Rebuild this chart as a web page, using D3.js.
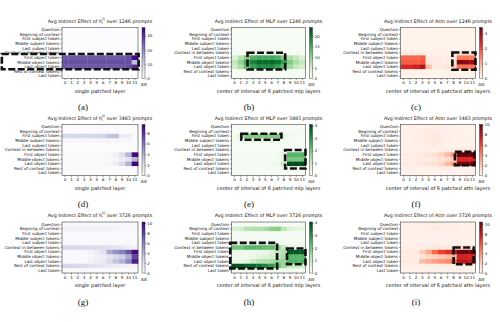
<!DOCTYPE html>
<html><head><meta charset="utf-8">
<script src="https://cdn.jsdelivr.net/npm/d3@7"></script>
<style>body{margin:0;background:#fff}</style>
</head><body><svg id="c" width="500" height="322"></svg>
<script>
const rowLabels = ["Question","Begining of context","First subject token","Middle subject tokens","Last subject token","Context in between tokens","First object token","Middle object tokens","Last object token","Rest of context tokens","Last token"];
const layerTicks = ["0","1","2","3","4","5","6","7","8","9","10","11"];
const promptCounts = ["1246","3483","3726"];
const components = ["h","MLP","Attn"];
const xAxisLabels = ["single patched layer","center of interval of 6 patched mlp layers","center of interval of 6 patched attn layers"];
const captions = ["(a)","(b)","(c)","(d)","(e)","(f)","(g)","(h)","(i)"];

// (a) hidden state, 1246 prompts
const hidden1246 = [
 [0.1,0.1,0.1,0.1,0.1,0.1,0.1,0.1,0.1,0.1,0.1,0.1],
 [0.1,0.1,0.1,0.1,0.1,0.1,0.1,0.1,0.1,0.1,0.1,0.1],
 [0.1,0.1,0.1,0.1,0.1,0.1,0.1,0.1,0.1,0.1,0.1,0.1],
 [0.1,0.1,0.1,0.1,0.1,0.1,0.1,0.1,0.1,0.1,0.1,0.1],
 [0.1,0.1,0.1,0.1,0.1,0.1,0.1,0.1,0.1,0.1,0.1,0.1],
 [0.2,0.2,0.2,0.2,0.2,0.2,0.2,0.2,0.2,0.2,0.2,0.2],
 [26,26,26,26,26,26,26,26,26,26,27,35],
 [27,27,27,27,27,27,27,27,27,27,27,13],
 [26,26,26,26,26,26,26,26,26,26,27,31],
 [0.1,0.1,0.1,0.1,0.1,0.1,0.1,0.1,0.1,0.1,0.1,0.1],
 [0.1,0.1,0.1,0.1,0.1,0.1,0.1,0.1,0.1,0.1,0.1,0.1]];
// (b) MLP, 1246 prompts
const mlp1246 = [
 [0.2,0.2,0.2,0.2,0.2,0.2,0.2,0.2,0.2,0.2,0.2,0.2],
 [0.2,0.2,0.2,0.2,0.2,0.2,0.2,0.2,0.2,0.2,0.2,0.2],
 [0.2,0.2,0.2,0.2,0.2,0.2,0.2,0.2,0.2,0.2,0.2,0.2],
 [0.2,0.2,0.2,0.2,0.2,0.2,0.2,0.2,0.2,0.2,0.2,0.2],
 [0.2,0.2,0.2,0.2,0.2,0.2,0.2,0.2,0.2,0.2,0.2,0.2],
 [0.3,0.3,0.3,0.3,0.3,0.3,0.3,0.3,0.3,0.3,0.3,0.3],
 [4,7,11,14,15,15,15,14,11,8,6,4],
 [6,10,15,19,21,21,21,20,16,11,8,6],
 [5,8,13,16,18,18,18,16,13,9,6,5],
 [0.3,0.3,0.3,0.3,0.3,0.3,0.3,0.3,0.3,0.3,0.3,0.3],
 [0.3,0.3,0.3,0.3,0.3,0.3,0.3,0.3,0.3,0.3,0.3,0.3]];
// (c) Attn, 1246 prompts
const attn1246 = [
 [0.05,0.05,0.05,0.05,0.05,0.05,0.05,0.05,0.05,0.05,0.05,0.05],
 [0.05,0.05,0.05,0.05,0.05,0.05,0.05,0.05,0.05,0.05,0.05,0.05],
 [0.05,0.05,0.05,0.05,0.05,0.05,0.05,0.05,0.05,0.05,0.05,0.05],
 [0.05,0.05,0.05,0.05,0.05,0.05,0.05,0.05,0.05,0.05,0.05,0.05],
 [0.05,0.05,0.05,0.05,0.05,0.05,0.05,0.05,0.05,0.05,0.05,0.05],
 [0.15,0.15,0.15,0.15,0.1,0.1,0.1,0.1,0.15,0.3,0.3,0.3],
 [1.7,1.7,1.7,1.8,0.2,0.15,0.15,0.15,0.3,1.5,1.5,1.5],
 [1.8,1.8,1.8,1.9,0.25,0.15,0.15,0.15,0.4,3.2,3.1,3.0],
 [2.4,2.4,2.5,2.8,0.8,0.2,0.2,0.3,0.6,1.6,1.6,1.6],
 [0.05,0.05,0.05,0.05,0.05,0.05,0.05,0.05,0.05,0.05,0.05,0.05],
 [0.05,0.05,0.05,0.05,0.05,0.05,0.05,0.05,0.05,0.05,0.05,0.05]];
// (d) hidden state, 3483 prompts
const hidden3483 = [
 [0.1,0.1,0.1,0.1,0.1,0.1,0.1,0.1,0.1,0.1,0.1,0.1],
 [0.1,0.1,0.1,0.1,0.1,0.1,0.1,0.1,0.1,0.1,0.1,0.1],
 [2.5,2.5,2.5,2.5,2.5,2.5,2.6,3.3,3.4,1.3,1.2,0.2],
 [0.4,0.4,0.4,0.4,0.4,0.4,0.4,0.5,0.5,0.3,0.3,0.1],
 [0.1,0.1,0.1,0.1,0.1,0.1,0.1,0.1,0.1,0.1,0.1,0.1],
 [0.1,0.1,0.1,0.1,0.1,0.1,0.1,0.1,0.1,0.1,0.1,0.1],
 [0.2,0.2,0.2,0.2,0.2,0.2,0.3,0.4,1.0,2.0,3.8,9.3],
 [0.2,0.2,0.2,0.2,0.2,0.2,0.2,0.3,0.6,1.2,2.0,3.8],
 [0.2,0.2,0.2,0.2,0.2,0.2,0.3,0.5,1.2,2.2,4.0,9.5],
 [0.1,0.1,0.1,0.1,0.1,0.1,0.1,0.1,0.1,0.1,0.1,0.1],
 [0.1,0.1,0.1,0.1,0.1,0.1,0.1,0.1,0.1,0.1,0.1,0.1]];
// (e) MLP, 3483 prompts
const mlp3483 = [
 [0.03,0.03,0.03,0.03,0.03,0.03,0.03,0.03,0.03,0.03,0.03,0.03],
 [0.03,0.03,0.03,0.03,0.03,0.03,0.03,0.03,0.03,0.03,0.03,0.03],
 [0.1,0.6,1.9,1.9,1.9,1.9,1.9,1.9,0.4,0.15,0.05,0.05],
 [0.05,0.2,0.3,0.3,0.3,0.3,0.3,0.3,0.1,0.05,0.05,0.05],
 [0.03,0.03,0.03,0.03,0.03,0.03,0.03,0.03,0.03,0.03,0.03,0.03],
 [0.03,0.03,0.03,0.03,0.03,0.03,0.03,0.03,0.05,0.1,0.1,0.1],
 [0.05,0.05,0.05,0.05,0.05,0.05,0.05,0.1,0.5,2.4,2.4,2.4],
 [0.05,0.05,0.05,0.05,0.05,0.05,0.05,0.1,0.4,2.0,2.0,2.0],
 [0.05,0.05,0.05,0.05,0.05,0.05,0.2,0.3,1.0,4.0,4.0,4.0],
 [0.03,0.03,0.03,0.03,0.03,0.03,0.03,0.03,0.03,0.03,0.03,0.03],
 [0.03,0.03,0.03,0.03,0.03,0.03,0.03,0.03,0.03,0.03,0.03,0.03]];
// (f) Attn, 3483 prompts
const attn3483 = [
 [0.3,0.3,0.3,0.3,0.4,0.4,0.4,0.3,0.3,0.2,0.2,0.2],
 [0.3,0.3,0.3,0.4,0.5,0.5,0.4,0.3,0.3,0.2,0.2,0.2],
 [0.3,0.3,0.4,0.5,0.6,0.7,0.6,0.4,0.3,0.3,0.2,0.2],
 [0.3,0.3,0.4,0.5,0.7,0.8,0.6,0.4,0.3,0.3,0.2,0.2],
 [0.3,0.3,0.3,0.4,0.5,0.5,0.4,0.3,0.3,0.2,0.2,0.2],
 [0.3,0.3,0.3,0.3,0.3,0.3,0.4,0.4,0.5,0.8,0.8,0.8],
 [0.5,0.5,0.6,0.7,0.9,1.1,1.6,2.5,3.5,10,10,10],
 [0.4,0.4,0.4,0.5,0.6,0.7,1.0,1.4,1.8,7.0,7.0,7.0],
 [0.5,0.5,0.6,0.7,0.9,1.1,1.6,2.4,3.4,9.6,9.6,9.6],
 [0.3,0.3,0.3,0.3,0.3,0.3,0.3,0.3,0.3,0.3,0.3,0.3],
 [0.2,0.2,0.2,0.2,0.2,0.2,0.2,0.2,0.2,0.2,0.2,0.2]];
// (g) hidden state, 3726 prompts
const hidden3726 = [
 [0.4,0.4,0.4,0.4,0.4,0.4,0.4,0.4,0.4,0.3,0.3,0.3],
 [0.9,0.9,0.9,0.9,0.9,0.9,0.9,0.9,0.8,0.5,0.4,0.3],
 [0.3,0.3,0.3,0.3,0.3,0.3,0.3,0.3,0.3,0.3,0.3,0.3],
 [0.3,0.3,0.3,0.3,0.3,0.3,0.3,0.3,0.3,0.3,0.3,0.3],
 [0.3,0.3,0.3,0.3,0.3,0.3,0.3,0.3,0.3,0.3,0.3,0.3],
 [2.6,2.6,2.6,2.5,2.4,2.3,2.2,2.1,1.9,1.6,1.2,0.9],
 [0.3,0.3,0.3,0.4,0.8,1.3,2.0,4.5,5.5,6.2,7.5,9.8],
 [0.3,0.3,0.3,0.3,0.5,0.9,1.3,1.9,2.5,3.0,4.5,8.0],
 [0.3,0.3,0.3,0.4,0.7,1.2,1.5,2.5,3.5,4.2,5.8,9.3],
 [2.6,2.6,2.5,2.4,2.2,2.0,1.8,1.5,1.3,1.1,0.8,0.6],
 [0.2,0.2,0.2,0.2,0.2,0.2,0.2,0.2,0.2,0.2,0.2,0.2]];
// (h) MLP, 3726 prompts
const mlp3726 = [
 [0.05,0.05,0.05,0.05,0.05,0.05,0.05,0.05,0.05,0.05,0.05,0.05],
 [0.7,0.8,1.2,1.3,1.3,1.4,1.7,1.8,1.1,0.6,0.5,0.4],
 [0.05,0.05,0.05,0.05,0.05,0.05,0.05,0.05,0.05,0.05,0.05,0.05],
 [0.05,0.05,0.05,0.05,0.05,0.05,0.05,0.05,0.05,0.05,0.05,0.05],
 [0.15,0.15,0.15,0.15,0.15,0.15,0.15,0.15,0.15,0.15,0.15,0.15],
 [2.0,2.0,2.3,2.3,2.3,2.2,2.2,1.6,1.0,0.5,0.4,0.4],
 [0.2,0.2,0.2,0.2,0.3,0.4,0.6,1.0,1.3,3.8,3.8,3.8],
 [0.2,0.2,0.2,0.3,0.5,0.6,0.8,1.1,1.4,2.3,2.3,2.3],
 [0.3,0.3,0.5,0.9,1.2,1.3,1.4,1.6,1.6,2.4,2.4,2.4],
 [3.9,3.8,3.6,3.6,3.4,3.2,2.8,2.0,1.5,1.0,0.9,0.8],
 [0.1,0.1,0.1,0.1,0.1,0.1,0.1,0.1,0.1,0.1,0.1,0.1]];
// (i) Attn, 3726 prompts
const attn3726 = [
 [0.3,0.3,0.3,0.4,0.5,0.6,0.5,0.4,0.4,0.3,0.3,0.3],
 [0.3,0.3,0.3,0.4,0.5,0.5,0.5,0.4,0.4,0.3,0.3,0.3],
 [0.3,0.3,0.3,0.3,0.3,0.3,0.3,0.3,0.3,0.3,0.3,0.3],
 [0.3,0.3,0.3,0.3,0.3,0.3,0.3,0.3,0.3,0.3,0.3,0.3],
 [0.3,0.3,0.3,0.3,0.3,0.3,0.3,0.3,0.3,0.3,0.3,0.3],
 [0.4,0.4,0.4,0.5,0.6,0.7,0.8,0.9,1.0,1.2,1.2,1.2],
 [0.6,0.6,0.7,2.0,3.2,5.2,6.5,7.0,8.0,10.2,10.2,10.2],
 [0.5,0.5,0.5,1.0,1.5,1.8,2.2,2.5,3.0,7.5,7.5,7.5],
 [0.6,0.6,0.7,2.5,3.0,3.5,3.8,4.2,5.2,8.3,8.3,8.3],
 [0.4,0.4,0.4,0.4,0.4,0.4,0.4,0.4,0.4,0.4,0.4,0.4],
 [0.2,0.2,0.2,0.2,0.2,0.2,0.2,0.2,0.2,0.2,0.2,0.2]];

const matrices = [hidden1246, mlp1246, attn1246, hidden3483, mlp3483, attn3483, hidden3726, mlp3726, attn3726];
const colorMax = [35.7, 24, 3.4, 9.6, 4.1, 10, 10.2, 4.05, 10.4];
const colorTicks = [[0,10,20,30],[0,5,10,15,20],[0,1,2,3],[0,2,4,6,8],[0,1,2,3,4],[0,2,4,6,8,10],[0,2,4,6,8,10],[0,1,2,3,4],[0,2,4,6,8,10]];
// highlighted regions in [colStart, colEnd, rowStart, rowEnd] cell units
const boxes = [
 [[-9.5,12.1,5.7,9.0]],
 [[2.6,8.7,5.45,9.05]],
 [[8.3,12.0,5.4,9.1]],
 [],
 [[1.6,8.1,2.0,3.3],[8.7,12.0,5.5,9.5]],
 [[8.7,11.8,5.9,8.8]],
 [],
 [[-0.2,7.4,4.5,10.0],[9.0,12.0,5.7,9.1]],
 [[8.5,11.7,5.5,9.1]]
];

const svg = d3.select("#c");
const FONT = "DejaVu Sans";
function fit(str, target) {
  const t = svg.append("text").attr("font-family", FONT).attr("font-size", 10).text(str);
  const len = t.node().getComputedTextLength();
  t.remove();
  return 10 * target / len;
}
const titleFS = fit("Avg Indirect Effect of MLP over 1246 prompts", 108);
const labelFS = fit("Context in between tokens", 55);
const xlabFS = fit("center of interval of 6 patched mlp layers", 104);
const tickFS = labelFS;

const colX = [62, 231.5, 400.5], colW = [76, 74, 75], rowY = [27.5, 124.5, 222], H = 51;
const capX = [83, 249, 416];
const interps = [d3.interpolatePurples, d3.interpolateGreens, d3.interpolateReds];
const defs = svg.append("defs");

matrices.forEach((M, k) => {
  const r = Math.floor(k / 3), c = k % 3;
  const w = colW[c];
  const g = svg.append("g").attr("transform", `translate(${colX[c]},${rowY[r]})`);
  const xs = d3.scaleBand().domain(d3.range(12)).range([0, w]);
  const ys = d3.scaleBand().domain(d3.range(11)).range([0, H]);
  const color = d3.scaleSequential(interps[c]).domain([0, colorMax[k]]);
  const cells = [];
  M.forEach((row, i) => row.forEach((v, j) => cells.push({i, j, v})));
  g.selectAll("rect.cell").data(cells).join("rect").attr("class","cell")
    .attr("x", d => xs(d.j)).attr("y", d => ys(d.i))
    .attr("width", xs.bandwidth() + 0.3).attr("height", ys.bandwidth() + 0.3)
    .attr("fill", d => color(d.v));
  g.append("rect").attr("width", w).attr("height", H).attr("fill","none").attr("stroke","#222").attr("stroke-width",0.5);

  const ya = g.append("g").call(d3.axisLeft(ys).tickFormat(i => rowLabels[i]).tickSize(1.5).tickPadding(1));
  ya.select(".domain").remove();
  ya.selectAll("text").attr("font-family", FONT).attr("font-size", labelFS).attr("fill","#111");
  ya.selectAll("line").attr("stroke-width", 0.4);
  const xa = g.append("g").attr("transform", `translate(0,${H})`)
    .call(d3.axisBottom(xs).tickFormat(j => layerTicks[j]).tickSize(1.5).tickPadding(1.3));
  xa.select(".domain").remove();
  xa.selectAll("text").attr("font-family", FONT).attr("font-size", tickFS).attr("fill","#111");
  xa.selectAll("line").attr("stroke-width", 0.4);

  // title
  const t = g.append("text").attr("x", w / 2).attr("y", -5).attr("text-anchor","middle")
    .attr("font-family", FONT).attr("font-size", titleFS).attr("fill","#111");
  if (c === 0) {
    t.append("tspan").text("Avg Indirect Effect of h");
    t.append("tspan").attr("font-size", titleFS * 0.7).attr("dy", 1.2).text("i");
    t.append("tspan").attr("font-size", titleFS * 0.7).attr("dx", -1.2).attr("dy", -3.8).text("(l)");
    t.append("tspan").attr("dy", 2.6).text(" over " + promptCounts[r] + " prompts");
  } else {
    t.text("Avg Indirect Effect of " + components[c] + " over " + promptCounts[r] + " prompts");
  }
  g.append("text").attr("x", w / 2).attr("y", H + 14).attr("text-anchor","middle")
    .attr("font-family", FONT).attr("font-size", xlabFS).attr("fill","#111").text(xAxisLabels[c]);

  // colorbar
  const gid = "grad" + k;
  const lg = defs.append("linearGradient").attr("id", gid).attr("x1",0).attr("y1",1).attr("x2",0).attr("y2",0);
  d3.range(0, 1.0001, 0.05).forEach(s => lg.append("stop").attr("offset", s).attr("stop-color", interps[c](s)));
  const cbx = w + 4, cbw = 3;
  g.append("rect").attr("x", cbx).attr("y", 0).attr("width", cbw).attr("height", H)
    .attr("fill", `url(#${gid})`).attr("stroke","#222").attr("stroke-width",0.4);
  const cs = d3.scaleLinear().domain([0, colorMax[k]]).range([H, 0]);
  const ca = g.append("g").attr("transform", `translate(${cbx + cbw},0)`)
    .call(d3.axisRight(cs).tickValues(colorTicks[k]).tickFormat(d3.format("d")).tickSize(1.2).tickPadding(1));
  ca.select(".domain").remove();
  ca.selectAll("text").attr("font-family", FONT).attr("font-size", tickFS * 0.95).attr("fill","#111");
  ca.selectAll("line").attr("stroke-width", 0.4);
  g.append("text").attr("x", cbx + cbw / 2 + 0.5).attr("y", H + 7.5).attr("text-anchor","middle")
    .attr("font-family", FONT).attr("font-size", tickFS).attr("fill","#111").text("AIE");

  // dashed highlight boxes
  const bx = d3.scaleLinear().domain([0, 12]).range([0, w]);
  const by = d3.scaleLinear().domain([0, 11]).range([0, H]);
  boxes[k].forEach(b => {
    g.append("rect").attr("x", bx(b[0])).attr("y", by(b[2]))
      .attr("width", bx(b[1]) - bx(b[0])).attr("height", by(b[3]) - by(b[2]))
      .attr("fill","none").attr("stroke","#111").attr("stroke-width", 2.6)
      .attr("stroke-dasharray","7,2.5");
  });

  svg.append("text").attr("x", capX[c]).attr("y", rowY[r] + 82.5).attr("text-anchor","middle")
    .attr("font-family","Liberation Serif").attr("font-size", 9).attr("fill","#111").text(captions[k]);
});
</script></body></html>
